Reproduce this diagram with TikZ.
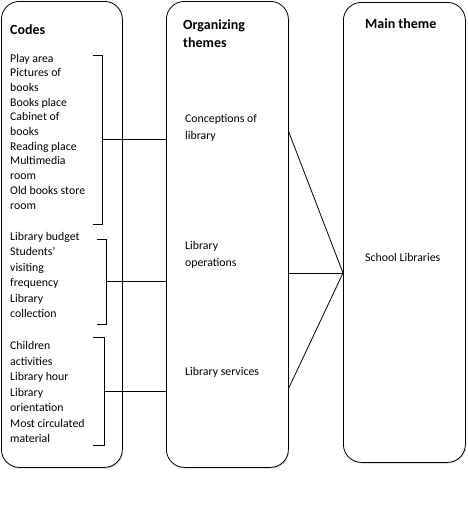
\documentclass[tikz,border=0pt]{standalone}
\usepackage{fontspec}
\setmainfont{Carlito}
\usetikzlibrary{shadows}
\begin{document}
\begin{tikzpicture}[x=1pt,y=-1pt,
  box/.style={draw, line width=0.8pt, rounded corners=18pt, inner sep=0pt, anchor=north west, fill=white,
    drop shadow={shadow xshift=0.8pt, shadow yshift=-1.2pt, opacity=0.35}},
  head/.style={font=\fontsize{14}{18}\selectfont\bfseries, anchor=base west, align=left, inner sep=0pt},
  body/.style={font=\fontsize{11.8}{14.7}\selectfont, anchor=base west, align=left, inner sep=0pt},
  bodywide/.style={font=\fontsize{11.8}{15.45}\selectfont, anchor=base west, align=left, inner sep=0pt},
  orgtext/.style={font=\fontsize{11.8}{16.5}\selectfont, anchor=base west, align=left, inner sep=0pt},
  conn/.style={line width=0.8pt}]
\useasboundingbox (0,0) rectangle (467,531);
% boxes
\node[box, minimum width=121pt, minimum height=466pt] (codes) at (1,1) {};
\node[box, minimum width=122pt, minimum height=466pt] (org) at (166,1) {};
\node[box, minimum width=122pt, minimum height=460pt] (main) at (343,2) {};
% headings (anchor = baseline of last line)
\node[head] (hcodes) at (10,34.5) {Codes};
\node[head] (horg) at (183,47.5) {Organizing\\themes};
\node[head] (hmain) at (365,28) {Main theme};
% codes
\node[body] (g1) at (10,209) {Play area\\Pictures of\\books\\Books place\\Cabinet of\\books\\Reading place\\Multimedia\\room\\Old books store\\room};
\node[bodywide] (g2) at (10,317.5) {Library budget\\Students’\\visiting\\frequency\\Library\\collection};
\node[bodywide] (g3) at (10,442.5) {Children\\activities\\Library hour\\Library\\orientation\\Most circulated\\material};
% organizing themes
\node[orgtext] (t1) at (185,139) {Conceptions of\\library};
\node[orgtext] (t2) at (185,266) {Library\\operations};
\node[orgtext] (t3) at (185,375) {Library services};
% main theme
\node[orgtext] (t4) at (365,261) {School Libraries};
% brackets
\draw[conn] (93,55) -- (102,55) -- (102,224) -- (93,224);
\coordinate (b1) at (102,139.5);
\draw[conn] (97,239) -- (106,239) -- (106,324) -- (97,324);
\coordinate (b2) at (106,281.5);
\draw[conn] (93,337) -- (104,337) -- (104,445) -- (93,445);
\coordinate (b3) at (104,391);
% connectors codes -> organizing
\draw[conn] (b1) -- (b1 -| org.west);
\draw[conn] (b2) -- (b2 -| org.west);
\draw[conn] (b3) -- (b3 -| org.west);
% connectors organizing -> main
\coordinate (m) at (main.west |- 0,273);
\coordinate (o1) at (org.east |- 0,132);
\coordinate (o2) at (org.east |- 0,273);
\coordinate (o3) at (org.east |- 0,388);
\draw[conn] (o1) -- (m);
\draw[conn] (o2) -- (m);
\draw[conn] (o3) -- (m);
\end{tikzpicture}
\end{document}
